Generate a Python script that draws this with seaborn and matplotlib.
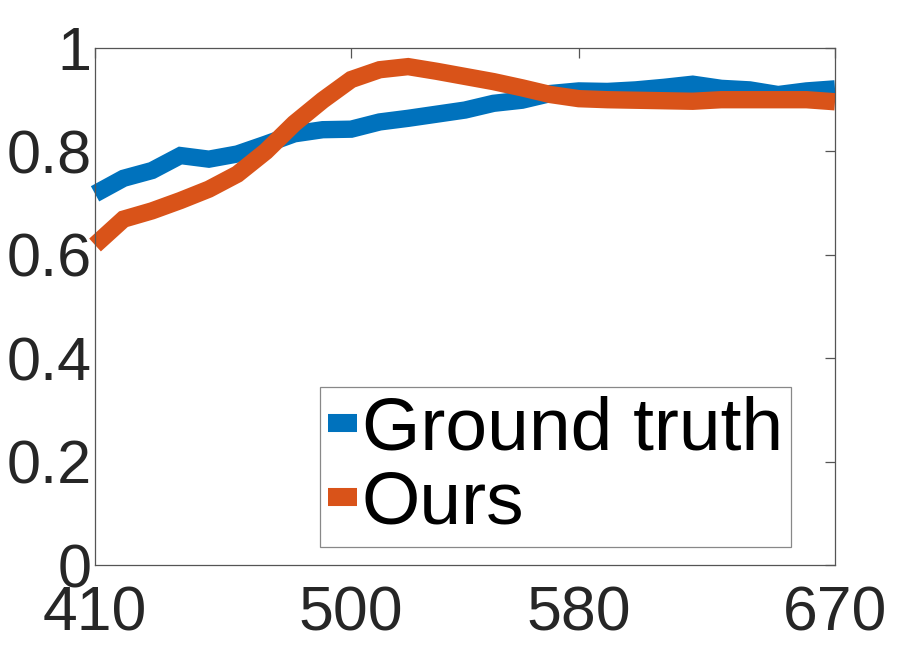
import matplotlib
matplotlib.use("Agg")
import matplotlib.pyplot as plt
import numpy as np
import pandas as pd
import seaborn as sns

# Данные
wavelengths = list(range(410, 680, 10))
ground_truth = [0.718, 0.748, 0.763, 0.792, 0.785, 0.795, 0.814, 0.834, 0.842, 0.843,
                0.857, 0.864, 0.872, 0.880, 0.893, 0.899, 0.912, 0.917, 0.916, 0.919,
                0.924, 0.930, 0.922, 0.919, 0.910, 0.917, 0.921]
ours = [0.619, 0.669, 0.685, 0.705, 0.727, 0.756, 0.800, 0.854, 0.899, 0.939,
        0.958, 0.964, 0.955, 0.945, 0.935, 0.923, 0.910, 0.902, 0.900, 0.899,
        0.898, 0.897, 0.900, 0.900, 0.900, 0.900, 0.896]
series_names = ["Ground truth", "Ours"]
colors = ["#0072BD", "#D95319"]
x_ticks = [410, 500, 580, 670]
y_ticks = [0, 0.2, 0.4, 0.6, 0.8, 1]
y_tick_labels = ["0", "0.2", "0.4", "0.6", "0.8", "1"]

df = pd.DataFrame({
    "wavelength": wavelengths * 2,
    "value": ground_truth + ours,
    "series": [series_names[0]] * len(wavelengths) + [series_names[1]] * len(wavelengths),
})

sns.set_style("white")
plt.rcParams["font.family"] = ["Liberation Sans", "DejaVu Sans"]

fig = plt.figure(figsize=(9, 6.47), dpi=100)
ax = fig.add_axes([0.1056, 0.1267, 0.8222, 0.7991])

sns.lineplot(data=df, x="wavelength", y="value", hue="series",
             palette=colors, linewidth=12.5, ax=ax, legend=False,
             solid_capstyle="butt", solid_joinstyle="miter", clip_on=False)

ax.set_xlim(410, 670)
ax.set_ylim(0, 1)
ax.set_xticks(x_ticks)
ax.set_yticks(y_ticks)
ax.set_yticklabels(y_tick_labels)
ax.set_xlabel("")
ax.set_ylabel("")

edge = "#555555"
for s in ax.spines.values():
    s.set_visible(True)
    s.set_color(edge)
    s.set_linewidth(0.9)
ax.tick_params(axis="both", direction="in", length=7, width=0.9, color=edge,
               top=True, right=True, labelcolor="#262626", labelsize=44)
ax.tick_params(axis="y", pad=2.5)
ax.tick_params(axis="x", pad=14, labelsize=45)

handles = [plt.Line2D([], [], color=c, linewidth=13, solid_capstyle="butt") for c in colors]
leg = ax.legend(handles, series_names, loc="lower right",
                bbox_to_anchor=(0.941, 0.035), borderaxespad=0,
                fontsize=54, handlelength=0.38, handletextpad=0.07,
                labelspacing=0.07, borderpad=0.11, fancybox=False,
                framealpha=1, edgecolor="#888888", labelcolor="black")
leg.get_frame().set_linewidth(0.9)

fig.savefig("out.png", dpi=100)
